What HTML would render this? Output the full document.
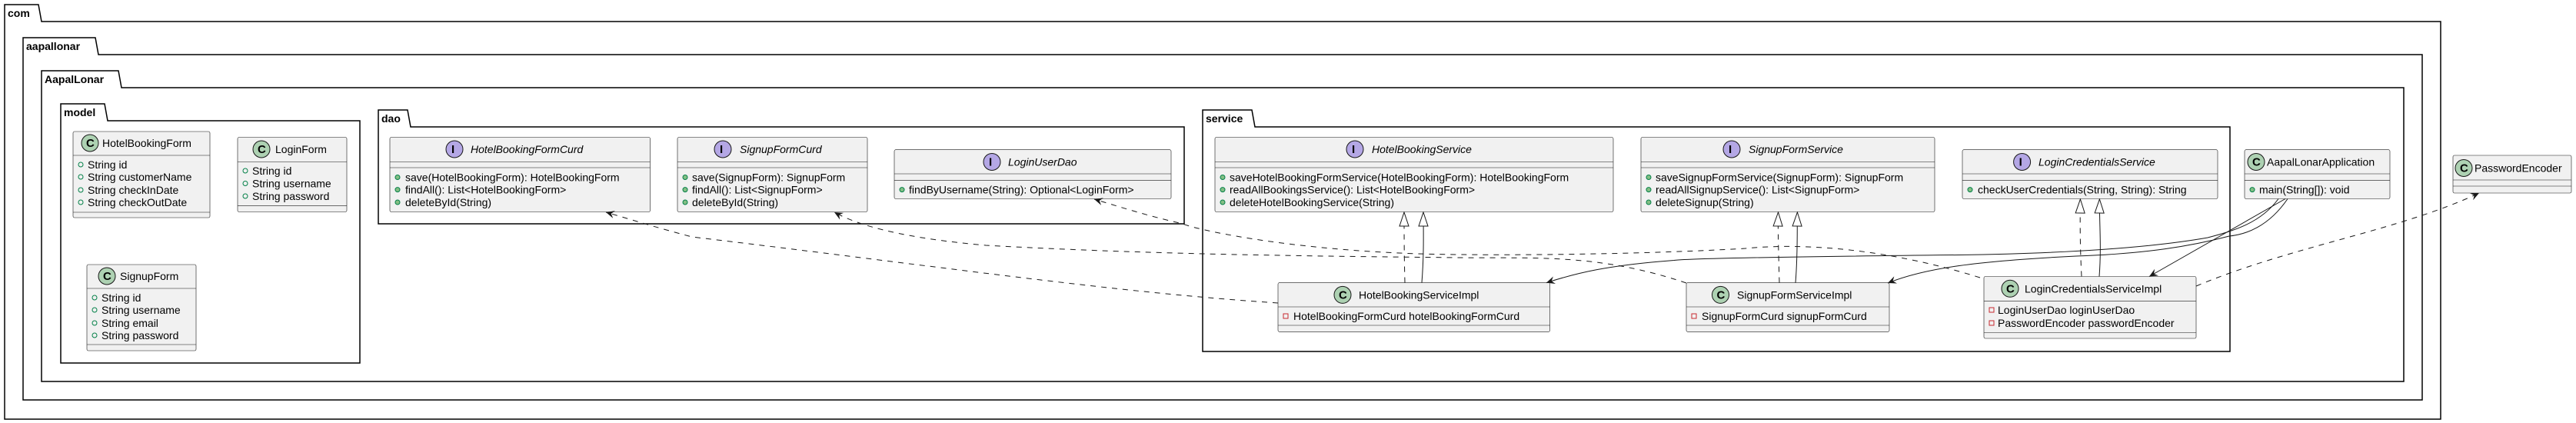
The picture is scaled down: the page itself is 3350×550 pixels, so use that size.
<!DOCTYPE html>
<html><head><meta charset="utf-8"><style>
html,body{margin:0;padding:0;background:#fff;}
svg{display:block;}
text{font-family:"Liberation Sans","DejaVu Sans",sans-serif;font-size:14px;fill:#000;}
.pk{font-weight:bold;}
.it{font-style:italic;}
.box{fill:#F1F1F1;stroke:#181818;stroke-width:0.6;}
.sep{stroke:#181818;stroke-width:0.6;}
.pkg{fill:none;stroke:#000;stroke-width:1.5;}
.dash{fill:none;stroke:#181818;stroke-width:1;stroke-dasharray:7,7;}
.sol{fill:none;stroke:#181818;stroke-width:1;}
.sp{font-weight:bold;font-size:15px;}
</style></head><body>
<svg width="3350" height="550" viewBox="0 0 3350 550" xmlns="http://www.w3.org/2000/svg">
<defs>
<marker id="ar" viewBox="0 0 12 10" refX="11" refY="5" markerWidth="12" markerHeight="10" markerUnits="userSpaceOnUse" orient="auto">
<path d="M0,0 L11,5 L0,10 L4,5 Z" fill="#181818"/></marker>
<marker id="tri" viewBox="0 0 20 20" refX="19" refY="10" markerWidth="20" markerHeight="20" markerUnits="userSpaceOnUse" orient="auto">
<path d="M1,4 L19,10 L1,16 Z" fill="#fff" stroke="#181818" stroke-width="1"/></marker>
</defs>

<!-- packages -->
<path class="pkg" d="M6,28 V6 H50 L54,28 H3174 V545 H6 Z"/>
<text class="pk" x="10" y="22">com</text>
<path class="pkg" d="M30,71 V49 H124 L128,71 H3150 V520 H30 Z"/>
<text class="pk" x="34" y="65">aapallonar</text>
<path class="pkg" d="M54,114 V92 H154 L158,114 H3126 V496 H54 Z"/>
<text class="pk" x="58" y="108">AapalLonar</text>
<path class="pkg" d="M79,157 V135 H136 L140,157 H468 V472 H79 Z"/>
<text class="pk" x="83" y="151">model</text>
<path class="pkg" d="M492,165 V143 H530 L534,165 H1540 V291 H492 Z"/>
<text class="pk" x="496" y="159">dao</text>
<path class="pkg" d="M1564,165 V143 H1628 L1632,165 H2900 V457 H1564 Z"/>
<text class="pk" x="1568" y="159">service</text>

<!-- model classes -->
<rect class="box" x="95" y="171" width="178" height="112" rx="2"/>
<line class="sep" x1="95" y1="202" x2="273" y2="202"/><line class="sep" x1="95" y1="276" x2="273" y2="276"/>
<circle cx="117" cy="186" r="11" fill="#ADD1B2" stroke="#181818" stroke-width="1"/><text class="sp" x="112" y="191">C</text>
<text x="133" y="191">HotelBookingForm</text>
<g fill="none" stroke="#038048">
<circle cx="105" cy="214" r="3"/><circle cx="105" cy="230" r="3"/><circle cx="105" cy="247" r="3"/><circle cx="105" cy="263" r="3"/></g>
<text x="114" y="219">String id</text><text x="114" y="235">String customerName</text><text x="114" y="252">String checkInDate</text><text x="114" y="268">String checkOutDate</text>

<rect class="box" x="309" y="178.5" width="142" height="97" rx="2"/>
<line class="sep" x1="309" y1="210.5" x2="451" y2="210.5"/><line class="sep" x1="309" y1="267.6" x2="451" y2="267.6"/>
<circle cx="340" cy="194" r="11" fill="#ADD1B2" stroke="#181818" stroke-width="1"/><text class="sp" x="335" y="199">C</text>
<text x="358" y="199">LoginForm</text>
<g fill="none" stroke="#038048"><circle cx="319" cy="222" r="3"/><circle cx="319" cy="238.5" r="3"/><circle cx="319" cy="255" r="3"/></g>
<text x="328" y="227">String id</text><text x="328" y="243.5">String username</text><text x="328" y="260">String password</text>

<rect class="box" x="113" y="344" width="142" height="112" rx="2"/>
<line class="sep" x1="113" y1="375" x2="255" y2="375"/><line class="sep" x1="113" y1="448" x2="255" y2="448"/>
<circle cx="139" cy="359" r="11" fill="#ADD1B2" stroke="#181818" stroke-width="1"/><text class="sp" x="134" y="364">C</text>
<text x="156" y="364">SignupForm</text>
<g fill="none" stroke="#038048"><circle cx="123" cy="387" r="3"/><circle cx="123" cy="403" r="3"/><circle cx="123" cy="420" r="3"/><circle cx="123" cy="436" r="3"/></g>
<text x="132" y="392">String id</text><text x="132" y="408">String username</text><text x="132" y="425">String email</text><text x="132" y="441">String password</text>

<!-- dao -->
<rect class="box" x="507" y="178.5" width="338.5" height="97" rx="2"/>
<line class="sep" x1="507" y1="210.5" x2="845.5" y2="210.5"/><line class="sep" x1="507" y1="218" x2="845.5" y2="218"/>
<circle cx="591" cy="194" r="11" fill="#B4A7E5" stroke="#181818" stroke-width="1"/><text class="sp" x="587" y="199">I</text>
<text class="it" x="612" y="199">HotelBookingFormCurd</text>
<g fill="#84BE84" stroke="#038048"><circle cx="517" cy="230.5" r="3"/><circle cx="517" cy="246.6" r="3"/><circle cx="517" cy="263" r="3"/></g>
<text x="527" y="235.5">save(HotelBookingForm): HotelBookingForm</text><text x="527" y="251.6">findAll(): List&lt;HotelBookingForm&gt;</text><text x="527" y="268">deleteById(String)</text>

<rect class="box" x="881" y="178.5" width="247" height="97" rx="2"/>
<line class="sep" x1="881" y1="210.5" x2="1128" y2="210.5"/><line class="sep" x1="881" y1="218" x2="1128" y2="218"/>
<circle cx="940" cy="194" r="11" fill="#B4A7E5" stroke="#181818" stroke-width="1"/><text class="sp" x="936" y="199">I</text>
<text class="it" x="962" y="199">SignupFormCurd</text>
<g fill="#84BE84" stroke="#038048"><circle cx="891" cy="230.5" r="3"/><circle cx="891" cy="246.6" r="3"/><circle cx="891" cy="263" r="3"/></g>
<text x="900" y="235.5">save(SignupForm): SignupForm</text><text x="900" y="251.6">findAll(): List&lt;SignupForm&gt;</text><text x="900" y="268">deleteById(String)</text>

<rect class="box" x="1163" y="194.7" width="360" height="63.8" rx="2"/>
<line class="sep" x1="1163" y1="226" x2="1523" y2="226"/><line class="sep" x1="1163" y1="234.3" x2="1523" y2="234.3"/>
<circle cx="1290" cy="210.5" r="11" fill="#B4A7E5" stroke="#181818" stroke-width="1"/><text class="sp" x="1286" y="215.5">I</text>
<text class="it" x="1311" y="215.5">LoginUserDao</text>
<circle cx="1173" cy="246.6" r="3" fill="#84BE84" stroke="#038048"/>
<text x="1182" y="251.6">findByUsername(String): Optional&lt;LoginForm&gt;</text>

<!-- service interfaces -->
<rect class="box" x="1580" y="178.5" width="518" height="97" rx="2"/>
<line class="sep" x1="1580" y1="210.5" x2="2098" y2="210.5"/><line class="sep" x1="1580" y1="218" x2="2098" y2="218"/>
<circle cx="1762" cy="194" r="11" fill="#B4A7E5" stroke="#181818" stroke-width="1"/><text class="sp" x="1758" y="199">I</text>
<text class="it" x="1784" y="199">HotelBookingService</text>
<g fill="#84BE84" stroke="#038048"><circle cx="1590" cy="230.5" r="3"/><circle cx="1590" cy="246.6" r="3"/><circle cx="1590" cy="263" r="3"/></g>
<text x="1599" y="235.5">saveHotelBookingFormService(HotelBookingForm): HotelBookingForm</text><text x="1599" y="251.6">readAllBookingsService(): List&lt;HotelBookingForm&gt;</text><text x="1599" y="268">deleteHotelBookingService(String)</text>

<rect class="box" x="2134" y="178.5" width="382" height="97" rx="2"/>
<line class="sep" x1="2134" y1="210.5" x2="2516" y2="210.5"/><line class="sep" x1="2134" y1="218" x2="2516" y2="218"/>
<circle cx="2252" cy="194" r="11" fill="#B4A7E5" stroke="#181818" stroke-width="1"/><text class="sp" x="2248" y="199">I</text>
<text class="it" x="2274" y="199">SignupFormService</text>
<g fill="#84BE84" stroke="#038048"><circle cx="2144" cy="230.5" r="3"/><circle cx="2144" cy="246.6" r="3"/><circle cx="2144" cy="263" r="3"/></g>
<text x="2153" y="235.5">saveSignupFormService(SignupForm): SignupForm</text><text x="2153" y="251.6">readAllSignupService(): List&lt;SignupForm&gt;</text><text x="2153" y="268">deleteSignup(String)</text>

<rect class="box" x="2552" y="194.7" width="332" height="63.8" rx="2"/>
<line class="sep" x1="2552" y1="226" x2="2884" y2="226"/><line class="sep" x1="2552" y1="234.3" x2="2884" y2="234.3"/>
<circle cx="2629.6" cy="210.5" r="11" fill="#B4A7E5" stroke="#181818" stroke-width="1"/><text class="sp" x="2625.6" y="215.5">I</text>
<text class="it" x="2651" y="215.5">LoginCredentialsService</text>
<circle cx="2562" cy="246.6" r="3" fill="#84BE84" stroke="#038048"/>
<text x="2572" y="251.6">checkUserCredentials(String, String): String</text>

<rect class="box" x="2919" y="194.7" width="189" height="63.8" rx="2"/>
<line class="sep" x1="2919" y1="226" x2="3108" y2="226"/><line class="sep" x1="2919" y1="234.3" x2="3108" y2="234.3"/>
<circle cx="2934" cy="210.5" r="11" fill="#ADD1B2" stroke="#181818" stroke-width="1"/><text class="sp" x="2929" y="215.5">C</text>
<text x="2948" y="215.5">AapalLonarApplication</text>
<circle cx="2929" cy="246.6" r="3" fill="#84BE84" stroke="#038048"/>
<text x="2938" y="251.6">main(String[]): void</text>

<rect class="box" x="3190" y="202" width="154" height="49" rx="2"/>
<line class="sep" x1="3190" y1="234" x2="3344" y2="234"/><line class="sep" x1="3190" y1="242" x2="3344" y2="242"/>
<circle cx="3204" cy="218.5" r="11" fill="#ADD1B2" stroke="#181818" stroke-width="1"/><text class="sp" x="3199" y="223.5">C</text>
<text x="3218" y="223.5">PasswordEncoder</text>

<!-- impls -->
<rect class="box" x="1662" y="367.6" width="353.6" height="63.8" rx="2"/>
<line class="sep" x1="1662" y1="399" x2="2015.6" y2="399"/><line class="sep" x1="1662" y1="423" x2="2015.6" y2="423"/>
<circle cx="1746" cy="383.4" r="11" fill="#ADD1B2" stroke="#181818" stroke-width="1"/><text class="sp" x="1741" y="388.4">C</text>
<text x="1767" y="388.4">HotelBookingServiceImpl</text>
<rect x="1669" y="408" width="6" height="6" fill="none" stroke="#C82930"/>
<text x="1682" y="416">HotelBookingFormCurd hotelBookingFormCurd</text>

<rect class="box" x="2193" y="367.6" width="264" height="63.8" rx="2"/>
<line class="sep" x1="2193" y1="399" x2="2457" y2="399"/><line class="sep" x1="2193" y1="423" x2="2457" y2="423"/>
<circle cx="2237.5" cy="383.4" r="11" fill="#ADD1B2" stroke="#181818" stroke-width="1"/><text class="sp" x="2232.5" y="388.4">C</text>
<text x="2259" y="388.4">SignupFormServiceImpl</text>
<rect x="2200" y="408" width="6" height="6" fill="none" stroke="#C82930"/>
<text x="2213" y="416">SignupFormCurd signupFormCurd</text>

<rect class="box" x="2580" y="359.5" width="276" height="80.5" rx="2"/>
<line class="sep" x1="2580" y1="391.4" x2="2856" y2="391.4"/><line class="sep" x1="2580" y1="432.5" x2="2856" y2="432.5"/>
<circle cx="2614" cy="375.3" r="11" fill="#ADD1B2" stroke="#181818" stroke-width="1"/><text class="sp" x="2609" y="380.3">C</text>
<text x="2633" y="380.3">LoginCredentialsServiceImpl</text>
<rect x="2587" y="400" width="6" height="6" fill="none" stroke="#C82930"/><rect x="2587" y="417" width="6" height="6" fill="none" stroke="#C82930"/>
<text x="2598" y="408">LoginUserDao loginUserDao</text><text x="2598" y="425">PasswordEncoder passwordEncoder</text>

<!-- dependencies -->
<path class="dash" d="M1662,394 C1450,380 1250,350 900,308 C850,295 820,285 788,276" marker-end="url(#ar)"/>
<path class="dash" d="M2193,368 C2080,330 2000,336 1900,335 C1700,333 1500,331 1282,319 C1180,310 1120,295 1085,276" marker-end="url(#ar)"/>
<path class="dash" d="M2575,361 C2460,325 2350,315 2270,323 C2150,330 2000,332 1900,331 C1700,330 1560,300 1538,291 C1490,280 1460,270 1423,259" marker-end="url(#ar)"/>
<path class="dash" d="M2856,372 C2980,320 3120,300 3224,251" marker-end="url(#ar)"/>

<!-- realizations -->
<path class="dash" d="M1827,367.6 C1826,330 1826,300 1826,276" marker-end="url(#tri)"/>
<path class="sol" d="M1849,367.6 C1852,330 1851,300 1851,276" marker-end="url(#tri)"/>
<path class="dash" d="M2314,367.6 C2313,330 2312,300 2312.5,276" marker-end="url(#tri)"/>
<path class="sol" d="M2335,367.6 C2338,330 2337,300 2337.4,276" marker-end="url(#tri)"/>
<path class="dash" d="M2707,359.5 C2705,320 2705,290 2705.4,259" marker-end="url(#tri)"/>
<path class="sol" d="M2730,359.5 C2733,320 2730,290 2730.4,259" marker-end="url(#tri)"/>

<!-- application arrows -->
<path class="sol" d="M2972,258.5 L2795,359.5" marker-end="url(#ar)"/>
<path class="sol" d="M2975,258.5 C2950,295 2920,305 2899,307 C2850,320 2790,330 2700,333 C2560,340 2500,350 2455,368" marker-end="url(#ar)"/>
<path class="sol" d="M2963,258.5 C2940,290 2905,300 2871,309 C2780,325 2650,330 2547,331.5 C2300,334 2200,336 2177,338.5 C2090,345 2050,355 2011,367.6" marker-end="url(#ar)"/>
</svg>
</body></html>
